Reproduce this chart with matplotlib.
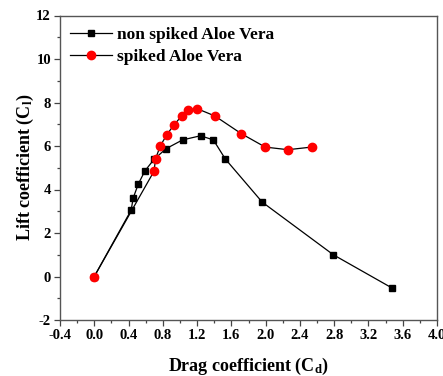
import matplotlib
matplotlib.use("Agg")
import matplotlib.pyplot as plt
from matplotlib.ticker import MultipleLocator, AutoMinorLocator

plt.rcParams['font.family'] = ['Liberation Serif', 'DejaVu Serif']
plt.rcParams['font.weight'] = 'bold'
plt.rcParams['axes.unicode_minus'] = False
plt.rcParams['mathtext.fontset'] = 'custom'
plt.rcParams['mathtext.rm'] = 'Liberation Serif:bold'
plt.rcParams['mathtext.it'] = 'Liberation Serif:bold'

# Non spiked Aloe Vera
cd_plain = [0.0, 0.43, 0.455, 0.514, 0.59, 0.70, 0.84, 1.03, 1.24, 1.39, 1.53, 1.96, 2.79, 3.48]
cl_plain = [0.0, 3.05, 3.62, 4.25, 4.85, 5.40, 5.88, 6.28, 6.47, 6.28, 5.40, 3.42, 1.00, -0.54]

# Spiked Aloe Vera
cd_spiked = [0.0, 0.697, 0.716, 0.77, 0.845, 0.93, 1.02, 1.097, 1.198, 1.408, 1.715, 1.995, 2.26, 2.536]
cl_spiked = [0.0, 4.84, 5.42, 6.00, 6.51, 6.97, 7.38, 7.66, 7.72, 7.38, 6.57, 5.95, 5.83, 5.95]

fig = plt.figure(figsize=(4.43, 3.76), dpi=100)
ax = fig.add_axes([60/443, 1 - 320/376, (437-60)/443, (320-15.5)/376])

ax.plot(cd_plain, cl_plain, color='black', lw=0.9, marker='s', ms=5,
        mfc='black', mec='black', label='non spiked Aloe Vera', zorder=2)
ax.plot(cd_spiked, cl_spiked, color='black', lw=0.9, marker='o', ms=6,
        mfc='red', mec='red', label='spiked Aloe Vera', zorder=3)

ax.set_xlim(-0.4, 4.0)
ax.set_ylim(-2, 12)
ax.xaxis.set_major_locator(MultipleLocator(0.4))
ax.xaxis.set_minor_locator(AutoMinorLocator(2))
ax.yaxis.set_major_locator(MultipleLocator(2))
ax.yaxis.set_minor_locator(AutoMinorLocator(2))
ax.tick_params(which='both', direction='out', top=False, right=False, width=0.9, color='#444444')
ax.tick_params(which='major', length=4, labelsize=10.5, pad=2.5)
ax.tick_params(which='minor', length=2.5)
for lab in ax.get_xticklabels() + ax.get_yticklabels():
    lab.set_fontweight('bold')
for sp in ax.spines.values():
    sp.set_color('#555555')
    sp.set_linewidth(1.0)

ax.set_xlabel('Drag coefficient (C$_\\mathregular{d}$)', fontsize=13, fontweight='bold', labelpad=10)
ax.set_ylabel('Lift coefficient (C$_\\mathregular{l}$)', fontsize=13, fontweight='bold', labelpad=0)

leg = ax.legend(loc='upper left', frameon=False, fontsize=12.5, handlelength=2.4,
                borderaxespad=0.2, labelspacing=0.35, handletextpad=0.3,
                bbox_to_anchor=(0.0, 0.998))
for t in leg.get_texts():
    t.set_fontweight('bold')

fig.savefig('out.png', dpi=100)
